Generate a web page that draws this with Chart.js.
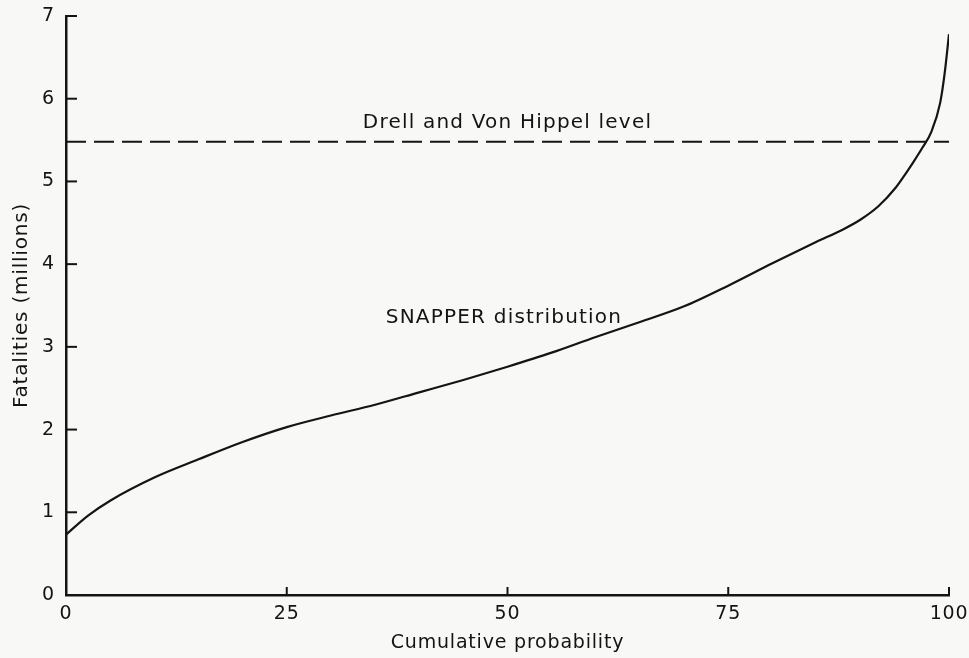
<!DOCTYPE html>
<html>
<head>
<meta charset="utf-8">
<script src="https://cdn.jsdelivr.net/npm/chart.js@4"></script>
<style>
  html, body { margin: 0; padding: 0; background: #f8f8f6; }
  #wrap { width: 969px; height: 658px; }
</style>
</head>
<body>
<div id="wrap"><canvas id="chart" width="969" height="658"></canvas></div>
<script>
// SNAPPER fatalities vs cumulative probability

// cumulative probability (%)
let probs = [0, 2.5, 5, 10, 15, 20, 25, 30, 35, 40, 45, 50, 55, 60, 65, 70, 75, 80, 85, 88, 90, 92, 94, 95, 96, 97, 98, 99, 99.5, 100];
// fatalities (millions)
let fatalities = [0.73, 0.96, 1.14, 1.42, 1.64, 1.85, 2.03, 2.17, 2.30, 2.45, 2.60, 2.76, 2.93, 3.12, 3.30, 3.49, 3.74, 4.01, 4.27, 4.42, 4.54, 4.70, 4.93, 5.08, 5.24, 5.41, 5.60, 5.95, 6.30, 6.78];

// Drell and Von Hippel level
let drellX = [0, 100];
let drellY = [5.48, 5.48];

// tick labels
let xTicks = [0, 25, 50, 75, 100];
let yTicks = [0, 1, 2, 3, 4, 5, 6, 7];

// text annotations [label, x, y]
let notes = [
  ["Drell and Von Hippel level", 50, 5.71],
  ["SNAPPER distribution", 49.6, 3.35]
];

let FONT = "'DejaVu Sans', sans-serif";
let INK = "#141414";

// spread letters a bit like the old typewriter lettering
let spacingPlugin = {
  id: "spacing",
  beforeDraw(chart) { chart.ctx.letterSpacing = "0.8px"; }
};

// inward ticks + annotations
let decorPlugin = {
  id: "decor",
  afterDraw(chart) {
    let c = chart.ctx;
    let xs = chart.scales.x, ys = chart.scales.y;
    c.save();
    c.strokeStyle = INK;
    c.lineWidth = 2;
    yTicks.forEach(v => {
      let py = ys.getPixelForValue(v);
      c.beginPath();
      c.moveTo(xs.left, py);
      c.lineTo(xs.left + 11, py);
      c.stroke();
    });
    xTicks.forEach(v => {
      let px = xs.getPixelForValue(v);
      c.beginPath();
      c.moveTo(px, ys.bottom);
      c.lineTo(px, ys.bottom - 8);
      c.stroke();
    });
    c.fillStyle = INK;
    c.letterSpacing = "1.2px";
    c.font = "20px " + FONT;
    c.textAlign = "center";
    c.textBaseline = "middle";
    notes.forEach(n => {
      c.fillText(n[0], xs.getPixelForValue(n[1]), ys.getPixelForValue(n[2]));
    });
    c.restore();
  }
};

let ctx = document.getElementById("chart").getContext("2d");

let chart = new Chart(ctx, {
  type: "line",
  data: {
    datasets: [
      {
        label: "SNAPPER distribution",
        data: probs.map((p, i) => ({ x: p, y: fatalities[i] })),
        borderColor: INK,
        borderWidth: 2.2,
        pointRadius: 0,
        cubicInterpolationMode: "monotone",
        fill: false
      },
      {
        label: "Drell and Von Hippel level",
        data: drellX.map((p, i) => ({ x: p, y: drellY[i] })),
        borderColor: INK,
        borderWidth: 2,
        borderDash: [20, 8],
        pointRadius: 0,
        fill: false
      }
    ]
  },
  options: {
    responsive: false,
    animation: false,
    layout: { padding: { top: 16, right: 0, left: 0, bottom: 0 } },
    plugins: {
      legend: { display: false },
      tooltip: { enabled: false }
    },
    scales: {
      x: {
        type: "linear",
        min: 0,
        max: 100,
        afterBuildTicks: s => { s.ticks = xTicks.map(v => ({ value: v })); },
        afterFit: s => { s.height = 63; s.paddingLeft = 0; s.paddingRight = 20; },
        grid: { display: false, drawTicks: false },
        border: { display: true, color: INK, width: 2.5 },
        ticks: { color: INK, padding: 8, font: { size: 19, family: FONT } },
        title: {
          display: true,
          text: "Cumulative probability",
          color: INK,
          padding: { top: 0, bottom: 4 },
          font: { size: 19, family: FONT }
        }
      },
      y: {
        type: "linear",
        min: 0,
        max: 7,
        afterBuildTicks: s => { s.ticks = yTicks.map(v => ({ value: v })); },
        afterFit: s => { s.width = 66; s.paddingTop = 0; s.paddingBottom = 0; },
        grid: { display: false, drawTicks: false },
        border: { display: true, color: INK, width: 2.5 },
        ticks: { color: INK, padding: 11, font: { size: 19, family: FONT } },
        title: {
          display: true,
          text: "Fatalities (millions)",
          color: INK,
          padding: { top: 10, bottom: 4 },
          font: { size: 20, family: FONT }
        }
      }
    }
  },
  plugins: [spacingPlugin, decorPlugin]
});
</script>
</body>
</html>
